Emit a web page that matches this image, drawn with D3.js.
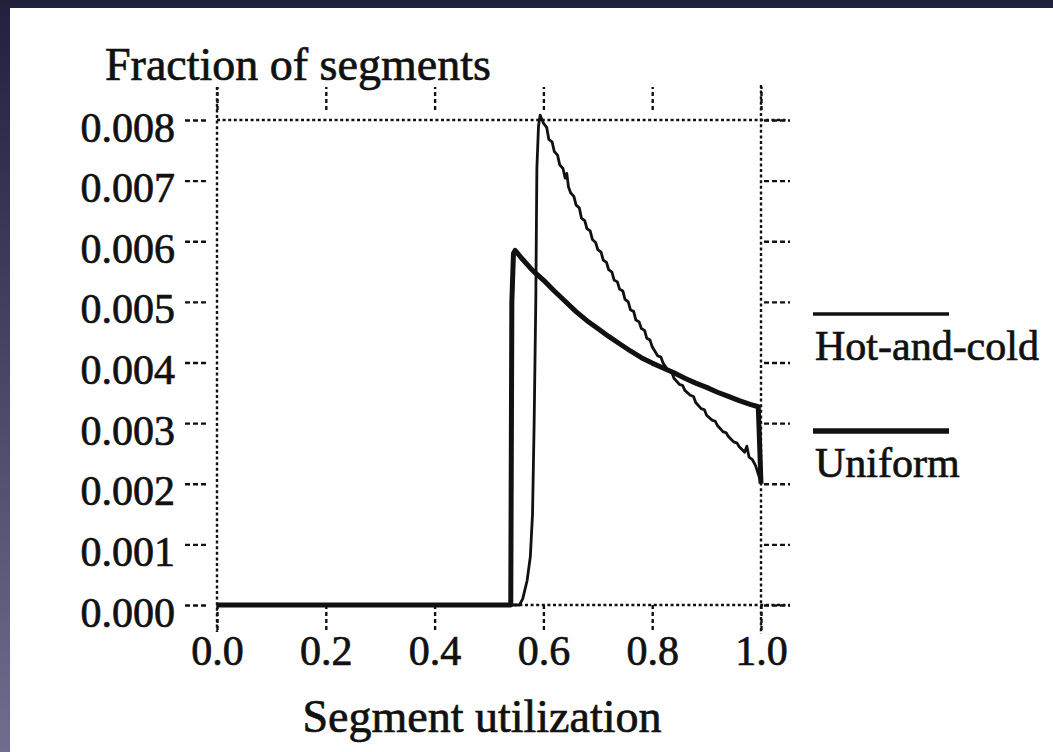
<!DOCTYPE html>
<html>
<head>
<meta charset="utf-8">
<script src="https://cdn.jsdelivr.net/npm/d3@7/dist/d3.min.js"></script>
<style>
  html, body { margin: 0; padding: 0; background: #22213e; }
  svg { display: block; }
  text { font-family: "Liberation Serif", "Times New Roman", "DejaVu Serif", serif; fill: #111; stroke: #111; stroke-width: 0.7px; }
</style>
</head>
<body>
<svg id="chart" width="1053" height="752"></svg>
<script>
// ---- data ----
const xTicks = [0.0, 0.2, 0.4, 0.6, 0.8, 1.0];
const yTicks = [0.000, 0.001, 0.002, 0.003, 0.004, 0.005, 0.006, 0.007, 0.008];
const seriesNames = ["Hot-and-cold", "Uniform"];
const xLabel = "Segment utilization";
const yLabel = "Fraction of segments";

// Hot-and-cold (thin, jagged line): utilization, fraction
const hotX = [0.000, 0.556, 0.562, 0.570, 0.576, 0.580, 0.583, 0.586, 0.588, 0.591, 0.594,
  0.600, 0.606, 0.610, 0.616, 0.620, 0.626, 0.630, 0.636, 0.640, 0.643, 0.646, 0.650,
  0.656, 0.660, 0.666, 0.670, 0.676, 0.680, 0.686, 0.690, 0.696, 0.700, 0.706, 0.710,
  0.716, 0.720, 0.726, 0.730, 0.736, 0.740, 0.746, 0.750, 0.756, 0.760, 0.766, 0.770,
  0.776, 0.780, 0.786, 0.790, 0.796, 0.800, 0.810, 0.816, 0.820, 0.830, 0.836, 0.840,
  0.850, 0.856, 0.860, 0.870, 0.876, 0.880, 0.890, 0.896, 0.900, 0.910, 0.916, 0.920,
  0.930, 0.936, 0.940, 0.950, 0.956, 0.960, 0.970, 0.974, 0.978, 0.984, 0.990, 1.000];
const hotY = [0.0000, 0.0000, 0.0001, 0.0004, 0.0008, 0.0015, 0.0030, 0.0050, 0.0072, 0.0079, 0.00808,
  0.00795, 0.00788, 0.00768, 0.00764, 0.00748, 0.00742, 0.00726, 0.00720, 0.00704, 0.00712, 0.00690, 0.00680,
  0.00674, 0.00660, 0.00655, 0.00638, 0.00634, 0.00621, 0.00617, 0.00603, 0.00598, 0.00586, 0.00582, 0.00569,
  0.00565, 0.00553, 0.00549, 0.00536, 0.00533, 0.00521, 0.00518, 0.00504, 0.00500, 0.00487, 0.00484, 0.00470,
  0.00467, 0.00456, 0.00453, 0.00440, 0.00437, 0.00426, 0.00411, 0.00409, 0.00399, 0.00386, 0.00384, 0.00374,
  0.00364, 0.00362, 0.00354, 0.00346, 0.00344, 0.00334, 0.00324, 0.00322, 0.00313, 0.00305, 0.00303, 0.00296,
  0.00286, 0.00284, 0.00278, 0.00269, 0.00267, 0.00261, 0.00252, 0.00262, 0.00244, 0.00240, 0.00230, 0.00202];

// Uniform (thick line)
const uniX = [0.000, 0.540, 0.542, 0.545, 0.548, 0.560, 0.580, 0.600, 0.620, 0.640, 0.660, 0.680,
  0.700, 0.720, 0.740, 0.760, 0.780, 0.800, 0.820, 0.840, 0.860, 0.880, 0.900, 0.920,
  0.940, 0.960, 0.980, 0.995, 1.000];
const uniY = [0.0000, 0.0000, 0.0050, 0.00580, 0.00585, 0.00572, 0.00552, 0.00536, 0.00518, 0.00501, 0.00484, 0.00469,
  0.00456, 0.00443, 0.00431, 0.00419, 0.00408, 0.00399, 0.00391, 0.00383, 0.00374, 0.00366, 0.00359, 0.00351,
  0.00344, 0.00337, 0.00331, 0.00327, 0.00200];

// ---- drawing ----
const svg = d3.select("#chart");
const W = 1053, H = 752;

const defs = svg.append("defs");
const grad = defs.append("linearGradient").attr("id", "bg").attr("x1", 0).attr("y1", 0).attr("x2", 0).attr("y2", 1);
grad.append("stop").attr("offset", "0%").attr("stop-color", "#21203d");
grad.append("stop").attr("offset", "100%").attr("stop-color", "#6e6d8d");
svg.append("rect").attr("width", W).attr("height", H).attr("fill", "url(#bg)");
svg.append("rect").attr("x", 10).attr("y", 8).attr("width", W - 10).attr("height", H - 8).attr("fill", "#fff");

const x = d3.scaleLinear().domain([0, 1]).range([217, 761]);
const y = d3.scaleLinear().domain([0, 0.008]).range([605, 120]);

const ink = "#111";
const dash = "3,2.6";

// frame (dotted)
const frame = svg.append("g").attr("stroke", ink).attr("stroke-width", 2.4).attr("stroke-dasharray", dash).attr("fill", "none");
frame.append("line").attr("x1", x(0)).attr("x2", x(0)).attr("y1", y(0.008) - 33).attr("y2", y(0) + 27);
frame.append("line").attr("x1", x(1)).attr("x2", x(1)).attr("y1", y(0.008) - 35).attr("y2", y(0) + 29);
frame.append("line").attr("x1", x(0)).attr("x2", x(1) + 27).attr("y1", y(0.008)).attr("y2", y(0.008));
frame.append("line").attr("x1", x(0)).attr("x2", x(1) + 29).attr("y1", y(0)).attr("y2", y(0));

// left axis (labelled)
const gl = svg.append("g").attr("transform", `translate(${x(0)},0)`)
  .call(d3.axisLeft(y).tickValues(yTicks).tickFormat(d3.format(".3f")).tickSize(32).tickPadding(10));
gl.select(".domain").remove();
gl.selectAll(".tick line").attr("x1", -11).attr("x2", -32).attr("stroke", ink).attr("stroke-width", 2.4).attr("stroke-dasharray", "5,3");
gl.selectAll(".tick text").attr("dy", "0.5em").style("font-size", "42px").attr("fill", ink);

// right axis (ticks only)
const gr = svg.append("g").attr("transform", `translate(${x(1)},0)`)
  .call(d3.axisRight(y).tickValues(yTicks).tickFormat("").tickSize(29));
gr.select(".domain").remove();
gr.selectAll(".tick line").attr("x1", 3).attr("stroke", ink).attr("stroke-width", 2.4).attr("stroke-dasharray", "5,3");

// bottom axis (labelled)
const gb = svg.append("g").attr("transform", `translate(0,${y(0)})`)
  .call(d3.axisBottom(x).tickValues(xTicks).tickFormat(d3.format(".1f")).tickSize(27).tickPadding(3));
gb.select(".domain").remove();
gb.selectAll(".tick line").attr("stroke", ink).attr("stroke-width", 2.4).attr("stroke-dasharray", "4,3");
gb.selectAll(".tick text").style("font-size", "42px").attr("fill", ink);

// top axis (ticks only)
const gt = svg.append("g").attr("transform", `translate(0,${y(0.008)})`)
  .call(d3.axisTop(x).tickValues(xTicks).tickFormat("").tickSize(33));
gt.select(".domain").remove();
gt.selectAll(".tick line").attr("y1", -10).attr("stroke", ink).attr("stroke-width", 2.4).attr("stroke-dasharray", "4,3");

// series lines
const line = d3.line().x(d => x(d[0])).y(d => y(d[1])).curve(d3.curveLinear);
const uniData = uniX.map((v, i) => [v, uniY[i]]);
const hotData = hotX.map((v, i) => [v, hotY[i]]);

svg.append("path").datum(uniData).attr("d", line)
  .attr("fill", "none").attr("stroke", ink).attr("stroke-width", 5).attr("stroke-linejoin", "round");
svg.append("path").datum(hotData).attr("d", line)
  .attr("fill", "none").attr("stroke", ink).attr("stroke-width", 2.8).attr("stroke-linejoin", "round");

// axis titles
svg.append("text").attr("x", 105).attr("y", 80).style("font-size", "46px").text(yLabel);
svg.append("text").attr("x", 482).attr("y", 732).attr("text-anchor", "middle").style("font-size", "46px").text(xLabel);

// legend
const legY = [314, 431];
const legW = [3.5, 5.5];
const lg = svg.append("g");
seriesNames.forEach((name, i) => {
  lg.append("line").attr("x1", 813).attr("x2", 949).attr("y1", legY[i]).attr("y2", legY[i])
    .attr("stroke", ink).attr("stroke-width", legW[i]);
  lg.append("text").attr("x", 815).attr("y", legY[i] + 46).style("font-size", "42px").text(name);
});
</script>
</body>
</html>
